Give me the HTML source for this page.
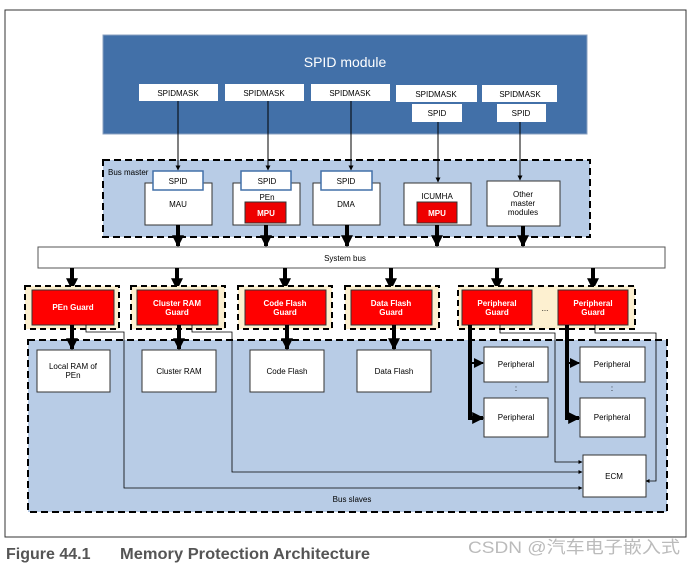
<!DOCTYPE html>
<html><head><meta charset="utf-8"><style>
body{margin:0;background:#fff;}
svg text{font-family:"Liberation Sans",Arial,sans-serif;}
</style></head><body>
<svg width="692" height="566" viewBox="0 0 692 566" xmlns="http://www.w3.org/2000/svg">
<defs>
<marker id="a" viewBox="0 0 10 10" refX="9" refY="5" markerWidth="5" markerHeight="5" orient="auto"><path d="M0,0L10,5L0,10z" fill="#000"/></marker>
<marker id="b" viewBox="0 0 10 10" refX="9" refY="5" markerWidth="3" markerHeight="3" orient="auto"><path d="M0,0L10,5L0,10z" fill="#000"/></marker>
</defs>
<rect x="5" y="10" width="681" height="527" fill="#fff" stroke="#333" stroke-width="1"/>
<!-- SPID module -->
<rect x="103" y="35" width="484" height="99" fill="#4270a8" stroke="#8aa0c0"/>
<text x="345" y="67" fill="#fff" font-size="14" text-anchor="middle">SPID module</text>
<g font-size="8" text-anchor="middle" fill="#000">
<rect x="139" y="84" width="79" height="17" fill="#fff"/><text x="178" y="96">SPIDMASK</text>
<rect x="225" y="84" width="79" height="17" fill="#fff"/><text x="264" y="96">SPIDMASK</text>
<rect x="311" y="84" width="79" height="17" fill="#fff"/><text x="350" y="96">SPIDMASK</text>
<rect x="396" y="85" width="81" height="17" fill="#fff"/><text x="436" y="97">SPIDMASK</text>
<rect x="482" y="85" width="75" height="17" fill="#fff"/><text x="520" y="97">SPIDMASK</text>
<rect x="412" y="104" width="50" height="18" fill="#fff"/><text x="437" y="116">SPID</text>
<rect x="497" y="104" width="49" height="18" fill="#fff"/><text x="521" y="116">SPID</text>
</g>
<!-- Bus master -->
<rect x="103" y="160" width="487" height="77" fill="#b8cce6" stroke="#000" stroke-width="2" stroke-dasharray="7,4"/>
<text x="108" y="175" font-size="8">Bus master</text>
<g font-size="8" text-anchor="middle">
<rect x="145" y="183" width="67" height="42" fill="#fff" stroke="#333"/><text x="178" y="207">MAU</text>
<rect x="153" y="171" width="50" height="19" fill="#fff" stroke="#4270a8" stroke-width="1.5"/><text x="178" y="184">SPID</text>
<rect x="233" y="183" width="67" height="42" fill="#fff" stroke="#333"/><text x="267" y="200">PEn</text>
<rect x="241" y="171" width="50" height="19" fill="#fff" stroke="#4270a8" stroke-width="1.5"/><text x="267" y="184">SPID</text>
<rect x="245" y="202" width="41" height="21" fill="#e00" stroke="#333"/><text x="266" y="216" fill="#fff" font-weight="bold">MPU</text>
<rect x="313" y="183" width="67" height="42" fill="#fff" stroke="#333"/><text x="346" y="207">DMA</text>
<rect x="321" y="171" width="51" height="19" fill="#fff" stroke="#4270a8" stroke-width="1.5"/><text x="346" y="184">SPID</text>
<rect x="404" y="183" width="67" height="42" fill="#fff" stroke="#333"/><text x="437" y="199">ICUMHA</text>
<rect x="417" y="202" width="40" height="21" fill="#e00" stroke="#333"/><text x="437" y="216" fill="#fff" font-weight="bold">MPU</text>
<rect x="487" y="181" width="73" height="45" fill="#fff" stroke="#333"/>
<text x="523" y="197">Other</text><text x="523" y="206">master</text><text x="523" y="215">modules</text>
</g>
<g stroke="#000" stroke-width="1" marker-end="url(#a)">
<line x1="178" y1="101" x2="178" y2="170"/>
<line x1="268" y1="101" x2="268" y2="170"/>
<line x1="351" y1="101" x2="351" y2="170"/>
<line x1="438" y1="122" x2="438" y2="182"/>
<line x1="520" y1="122" x2="520" y2="180"/>
</g>
<!-- system bus -->
<rect x="38" y="247" width="627" height="21" fill="#fff" stroke="#555"/>
<text x="345" y="261" font-size="8" text-anchor="middle">System bus</text>
<g stroke="#000" stroke-width="4" marker-end="url(#b)">
<line x1="178" y1="225" x2="178" y2="246"/>
<line x1="266" y1="225" x2="266" y2="246"/>
<line x1="347" y1="225" x2="347" y2="246"/>
<line x1="437" y1="225" x2="437" y2="246"/>
<line x1="523" y1="226" x2="523" y2="246"/>
<line x1="72" y1="268" x2="72" y2="289"/>
<line x1="177" y1="268" x2="177" y2="289"/>
<line x1="285" y1="268" x2="285" y2="289"/>
<line x1="391" y1="268" x2="391" y2="289"/>
<line x1="497" y1="268" x2="497" y2="289"/>
<line x1="593" y1="268" x2="593" y2="289"/>
</g>
<!-- bus slaves -->
<rect x="28" y="340" width="639" height="172" fill="#b8cce6" stroke="#000" stroke-width="2" stroke-dasharray="7,4"/>
<!-- guards -->
<g fill="#fdf0d0" stroke="#000" stroke-width="2" stroke-dasharray="6,4">
<rect x="25" y="286" width="94" height="43"/>
<rect x="131" y="286" width="94" height="43"/>
<rect x="238" y="286" width="94" height="43"/>
<rect x="345" y="286" width="94" height="43"/>
<rect x="458" y="286" width="177" height="43"/>
</g>
<g fill="#f00" stroke="#333">
<rect x="32" y="290" width="82" height="35"/>
<rect x="137" y="290" width="81" height="35"/>
<rect x="245" y="290" width="81" height="35"/>
<rect x="351" y="290" width="81" height="35"/>
<rect x="462" y="290" width="70" height="35"/>
<rect x="558" y="290" width="70" height="35"/>
</g>
<g fill="#fff" font-size="8" font-weight="bold" text-anchor="middle">
<text x="73" y="310">PEn Guard</text>
<text x="177" y="306">Cluster RAM</text><text x="177" y="315">Guard</text>
<text x="285" y="306">Code Flash</text><text x="285" y="315">Guard</text>
<text x="391" y="306">Data Flash</text><text x="391" y="315">Guard</text>
<text x="497" y="306">Peripheral</text><text x="497" y="315">Guard</text>
<text x="593" y="306">Peripheral</text><text x="593" y="315">Guard</text>
</g>
<text x="545" y="311" font-size="8" text-anchor="middle">...</text>
<!-- slaves -->
<g fill="#fff" stroke="#333">
<rect x="37" y="350" width="73" height="42"/>
<rect x="142" y="350" width="74" height="42"/>
<rect x="250" y="350" width="74" height="42"/>
<rect x="357" y="350" width="74" height="42"/>
<rect x="484" y="347" width="64" height="35"/>
<rect x="484" y="398" width="64" height="39"/>
<rect x="580" y="347" width="65" height="35"/>
<rect x="580" y="398" width="65" height="39"/>
<rect x="583" y="455" width="63" height="42"/>
</g>
<g font-size="8" text-anchor="middle">
<text x="73" y="369">Local RAM of</text><text x="73" y="378">PEn</text>
<text x="179" y="374">Cluster RAM</text>
<text x="287" y="374">Code Flash</text>
<text x="394" y="374">Data Flash</text>
<text x="516" y="367">Peripheral</text><text x="516" y="420">Peripheral</text>
<text x="612" y="367">Peripheral</text><text x="612" y="420">Peripheral</text>
<text x="516" y="391">:</text><text x="612" y="391">:</text>
<text x="614" y="479">ECM</text>
<text x="352" y="502">Bus slaves</text>
</g>
<g stroke="#000" stroke-width="4" fill="none">
<line x1="72" y1="325" x2="72" y2="349" marker-end="url(#b)"/>
<line x1="179" y1="325" x2="179" y2="349" marker-end="url(#b)"/>
<line x1="287" y1="325" x2="287" y2="349" marker-end="url(#b)"/>
<line x1="394" y1="325" x2="394" y2="349" marker-end="url(#b)"/>
<polyline points="470,325 470,418 483,418" marker-end="url(#b)"/>
<line x1="470" y1="363" x2="483" y2="363" stroke-width="2" marker-end="url(#a)"/>
<polyline points="567,325 567,418 579,418" marker-end="url(#b)"/>
<line x1="567" y1="363" x2="579" y2="363" stroke-width="2" marker-end="url(#a)"/>
</g>
<g stroke="#000" stroke-width="0.8" fill="none" marker-end="url(#a)">
<polyline points="86,325 86,332 124,332 124,488 582,488"/>
<polyline points="192,325 192,332 232,332 232,472 582,472"/>
<polyline points="500,325 500,333 555,333 555,462 582,462"/>
<polyline points="595,325 595,333 656,333 656,481 646,481"/>
</g>
<text x="6" y="559" font-size="16" font-weight="bold" fill="#555">Figure 44.1</text>
<text x="120" y="559" font-size="16" font-weight="bold" fill="#555" textLength="250" lengthAdjust="spacingAndGlyphs">Memory Protection Architecture</text>
<text x="468" y="553" font-size="17" fill="#bbb" font-family="Liberation Sans, Noto Sans CJK SC, sans-serif" textLength="212" lengthAdjust="spacingAndGlyphs">CSDN @汽车电子嵌入式</text>
</svg>
</body></html>
